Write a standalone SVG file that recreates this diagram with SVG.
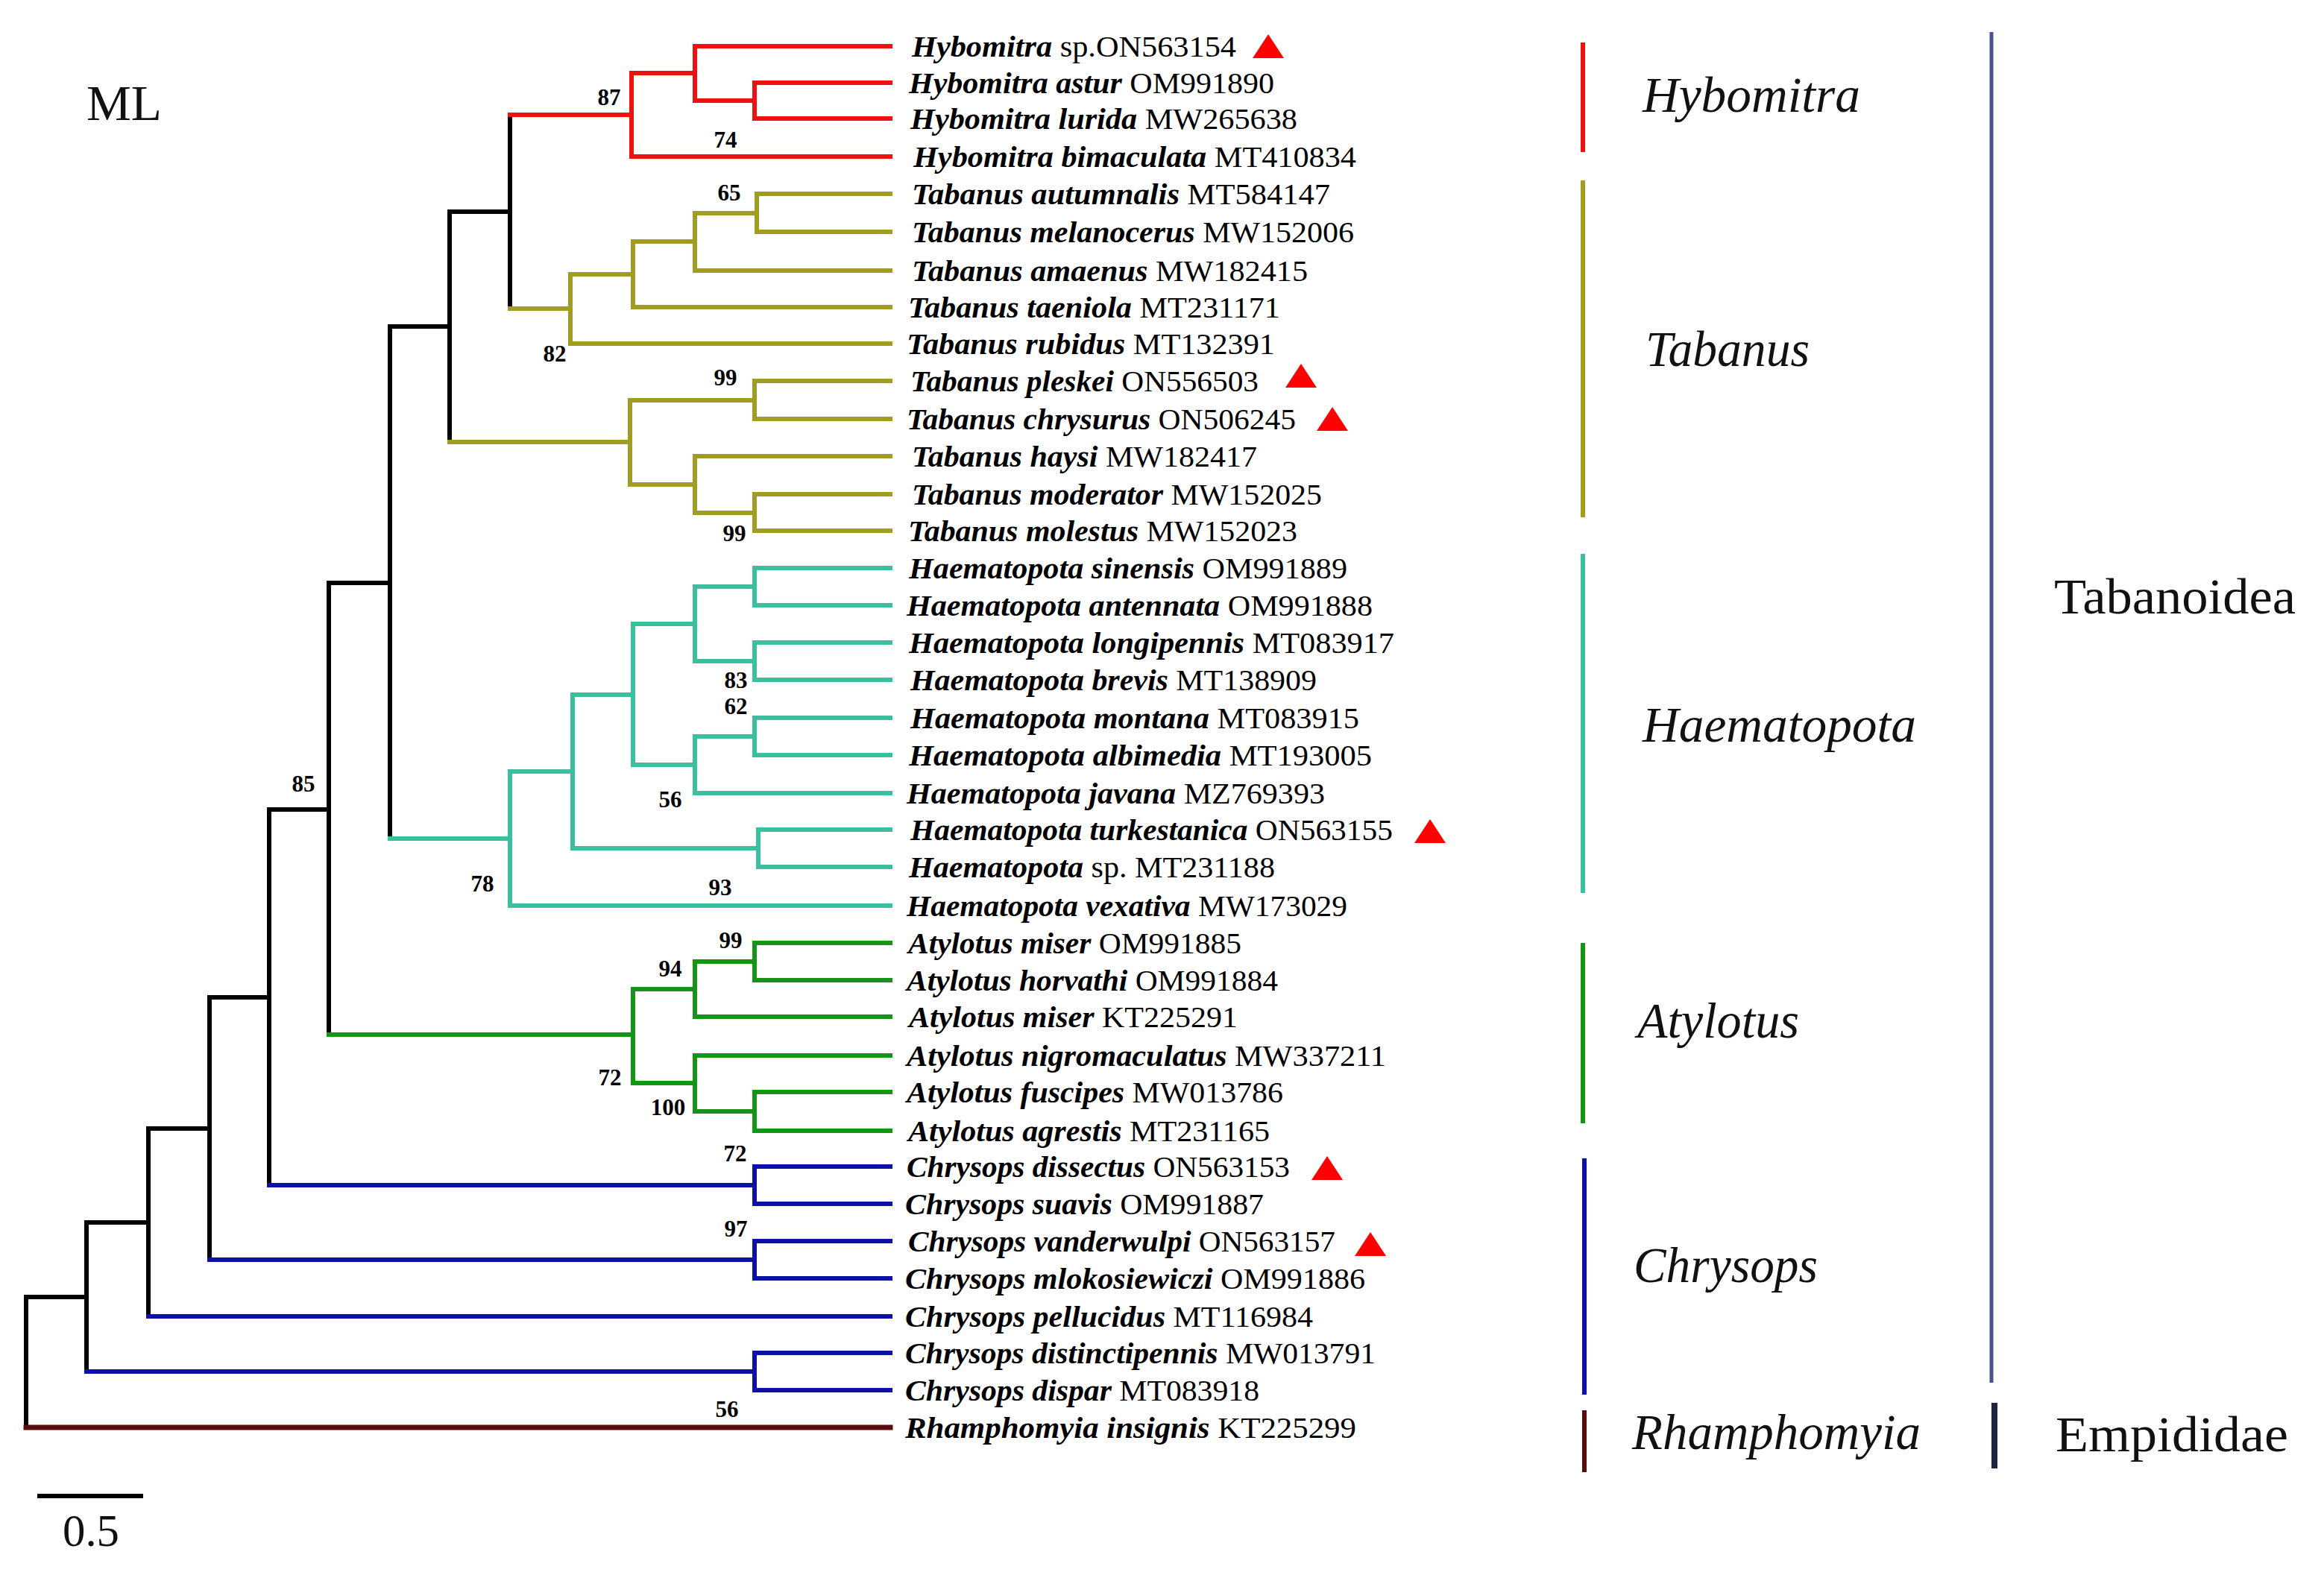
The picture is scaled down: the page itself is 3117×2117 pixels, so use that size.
<svg xmlns="http://www.w3.org/2000/svg" width="3117" height="2117" viewBox="0 0 3117 2117">
<style>
.br{fill:none;stroke-width:6;stroke-linecap:square}
.k{stroke:#000}.r{stroke:#ee1111}.o{stroke:#a19c22}.t{stroke:#3cbf9f}.g{stroke:#159415}.b{stroke:#0c10a6}.d{stroke:#5a0c0c}
.lf{font-family:"Liberation Serif","Times New Roman",serif;font-size:41px;fill:#000}
.sp{font-weight:bold;font-style:italic}
.bs{font-family:"Liberation Serif","Times New Roman",serif;font-size:31px;font-weight:bold;fill:#000;text-anchor:middle}
.gn{font-family:"Liberation Serif","Times New Roman",serif;font-size:68px;font-style:italic;fill:#111}
.fam{font-family:"Liberation Serif","Times New Roman",serif;font-size:68px;fill:#111}
.bar{stroke-width:6;fill:none}
</style>
<defs>
<polygon id="tri" points="0,-17 -21,15 21,15" fill="#ff0000"/>
</defs>
<rect width="3117" height="2117" fill="#fff"/>
<g id="connectors">
<path class="br k" d="M35 1740V1915M35 1740H116M116 1640V1840M116 1640H199M199 1514V1766M199 1514H281M281 1338V1690M281 1338H361M361 1086V1590M361 1086H441M441 782V1388M441 782H523M523 438V1125M523 438H603M603 284V593M603 284H684M684 154V414"/>
<path class="br r" d="M684 154H847M847 98V210M847 98H932M932 62V135M932 62H1194M932 135H1012M1012 111V159M1012 111H1194M1012 159H1194M847 210H1194"/>
<path class="br o" d="M684 414H765M765 368V461M765 461H1194M765 368H849M849 324V412M849 412H1194M849 324H932M932 286V363M932 363H1194M932 286H1015M1015 260V311M1015 260H1194M1015 311H1194M603 593H845M845 537V650M845 537H1012M1012 511V562M1012 511H1194M1012 562H1194M845 650H932M932 612V688M932 612H1194M932 688H1012M1012 663V712M1012 663H1194M1012 712H1194"/>
<path class="br t" d="M523 1125H684M684 1035V1215M684 1215H1194M684 1035H768M768 932V1138M768 1138H1017M1017 1113V1163M1017 1113H1194M1017 1163H1194M768 932H849M849 837V1026M849 837H932M932 787V887M932 787H1012M1012 762V812M1012 762H1194M1012 812H1194M932 887H1012M1012 862V912M1012 862H1194M1012 912H1194M849 1026H932M932 988V1064M932 988H1012M1012 963V1013M1012 963H1194M1012 1013H1194M932 1064H1194"/>
<path class="br g" d="M441 1388H849M849 1327V1453M849 1327H932M932 1290V1364M932 1290H1012M1012 1265V1315M1012 1265H1194M1012 1315H1194M932 1364H1194M849 1453H932M932 1416V1491M932 1416H1194M932 1491H1012M1012 1465V1517M1012 1465H1194M1012 1517H1194"/>
<path class="br b" d="M361 1590H1012M1012 1565V1615M1012 1565H1194M1012 1615H1194M281 1690H1012M1012 1665V1715M1012 1665H1194M1012 1715H1194M199 1766H1194M116 1840H1012M1012 1815V1865M1012 1815H1194M1012 1865H1194"/>
<path class="br d" style="stroke-width:7" d="M35 1915H1194"/>
</g>
<g id="bootstrap">
<text class="bs" x="817" y="141">87</text>
<text class="bs" x="973" y="198">74</text>
<text class="bs" x="978" y="269">65</text>
<text class="bs" x="744" y="485">82</text>
<text class="bs" x="973" y="517">99</text>
<text class="bs" x="985" y="726">99</text>
<text class="bs" x="987" y="923">83</text>
<text class="bs" x="987" y="958">62</text>
<text class="bs" x="899" y="1083">56</text>
<text class="bs" x="647" y="1196">78</text>
<text class="bs" x="966" y="1201">93</text>
<text class="bs" x="407" y="1062">85</text>
<text class="bs" x="980" y="1272">99</text>
<text class="bs" x="899" y="1310">94</text>
<text class="bs" x="818" y="1456">72</text>
<text class="bs" x="896" y="1496">100</text>
<text class="bs" x="986" y="1558">72</text>
<text class="bs" x="987" y="1659">97</text>
<text class="bs" x="975" y="1901">56</text>
</g>
<g id="leaf-01"><text class="lf" x="1223" y="76" textLength="435" lengthAdjust="spacingAndGlyphs"><tspan class="sp">Hybomitra</tspan> sp.ON563154</text><use href="#tri" x="1701" y="63"/></g>
<g id="leaf-02"><text class="lf" x="1219" y="125" textLength="490" lengthAdjust="spacingAndGlyphs"><tspan class="sp">Hybomitra astur</tspan> OM991890</text></g>
<g id="leaf-03"><text class="lf" x="1221" y="173" textLength="519" lengthAdjust="spacingAndGlyphs"><tspan class="sp">Hybomitra lurida</tspan> MW265638</text></g>
<g id="leaf-04"><text class="lf" x="1225" y="224" textLength="594" lengthAdjust="spacingAndGlyphs"><tspan class="sp">Hybomitra bimaculata</tspan> MT410834</text></g>
<g id="leaf-05"><text class="lf" x="1223" y="274" textLength="561" lengthAdjust="spacingAndGlyphs"><tspan class="sp">Tabanus autumnalis</tspan> MT584147</text></g>
<g id="leaf-06"><text class="lf" x="1223" y="325" textLength="593" lengthAdjust="spacingAndGlyphs"><tspan class="sp">Tabanus melanocerus</tspan> MW152006</text></g>
<g id="leaf-07"><text class="lf" x="1223" y="377" textLength="531" lengthAdjust="spacingAndGlyphs"><tspan class="sp">Tabanus amaenus</tspan> MW182415</text></g>
<g id="leaf-08"><text class="lf" x="1218" y="426" textLength="499" lengthAdjust="spacingAndGlyphs"><tspan class="sp">Tabanus taeniola</tspan> MT231171</text></g>
<g id="leaf-09"><text class="lf" x="1216" y="475" textLength="494" lengthAdjust="spacingAndGlyphs"><tspan class="sp">Tabanus rubidus</tspan> MT132391</text></g>
<g id="leaf-10"><text class="lf" x="1221" y="525" textLength="467" lengthAdjust="spacingAndGlyphs"><tspan class="sp">Tabanus pleskei</tspan> ON556503</text><use href="#tri" x="1745" y="505"/></g>
<g id="leaf-11"><text class="lf" x="1216" y="576" textLength="522" lengthAdjust="spacingAndGlyphs"><tspan class="sp">Tabanus chrysurus</tspan> ON506245</text><use href="#tri" x="1787" y="563"/></g>
<g id="leaf-12"><text class="lf" x="1223" y="626" textLength="463" lengthAdjust="spacingAndGlyphs"><tspan class="sp">Tabanus haysi</tspan> MW182417</text></g>
<g id="leaf-13"><text class="lf" x="1223" y="677" textLength="550" lengthAdjust="spacingAndGlyphs"><tspan class="sp">Tabanus moderator</tspan> MW152025</text></g>
<g id="leaf-14"><text class="lf" x="1218" y="726" textLength="522" lengthAdjust="spacingAndGlyphs"><tspan class="sp">Tabanus molestus</tspan> MW152023</text></g>
<g id="leaf-15"><text class="lf" x="1219" y="776" textLength="588" lengthAdjust="spacingAndGlyphs"><tspan class="sp">Haematopota sinensis</tspan> OM991889</text></g>
<g id="leaf-16"><text class="lf" x="1216" y="826" textLength="625" lengthAdjust="spacingAndGlyphs"><tspan class="sp">Haematopota antennata</tspan> OM991888</text></g>
<g id="leaf-17"><text class="lf" x="1219" y="876" textLength="651" lengthAdjust="spacingAndGlyphs"><tspan class="sp">Haematopota longipennis</tspan> MT083917</text></g>
<g id="leaf-18"><text class="lf" x="1221" y="926" textLength="545" lengthAdjust="spacingAndGlyphs"><tspan class="sp">Haematopota brevis</tspan> MT138909</text></g>
<g id="leaf-19"><text class="lf" x="1221" y="977" textLength="602" lengthAdjust="spacingAndGlyphs"><tspan class="sp">Haematopota montana</tspan> MT083915</text></g>
<g id="leaf-20"><text class="lf" x="1219" y="1027" textLength="621" lengthAdjust="spacingAndGlyphs"><tspan class="sp">Haematopota albimedia</tspan> MT193005</text></g>
<g id="leaf-21"><text class="lf" x="1216" y="1078" textLength="561" lengthAdjust="spacingAndGlyphs"><tspan class="sp">Haematopota javana</tspan> MZ769393</text></g>
<g id="leaf-22"><text class="lf" x="1221" y="1127" textLength="647" lengthAdjust="spacingAndGlyphs"><tspan class="sp">Haematopota turkestanica</tspan> ON563155</text><use href="#tri" x="1918" y="1116"/></g>
<g id="leaf-23"><text class="lf" x="1219" y="1177" textLength="491" lengthAdjust="spacingAndGlyphs"><tspan class="sp">Haematopota</tspan> sp. MT231188</text></g>
<g id="leaf-24"><text class="lf" x="1216" y="1229" textLength="591" lengthAdjust="spacingAndGlyphs"><tspan class="sp">Haematopota vexativa</tspan> MW173029</text></g>
<g id="leaf-25"><text class="lf" x="1218" y="1279" textLength="447" lengthAdjust="spacingAndGlyphs"><tspan class="sp">Atylotus miser</tspan> OM991885</text></g>
<g id="leaf-26"><text class="lf" x="1216" y="1329" textLength="498" lengthAdjust="spacingAndGlyphs"><tspan class="sp">Atylotus horvathi</tspan> OM991884</text></g>
<g id="leaf-27"><text class="lf" x="1219" y="1378" textLength="441" lengthAdjust="spacingAndGlyphs"><tspan class="sp">Atylotus miser</tspan> KT225291</text></g>
<g id="leaf-28"><text class="lf" x="1216" y="1430" textLength="643" lengthAdjust="spacingAndGlyphs"><tspan class="sp">Atylotus nigromaculatus</tspan> MW337211</text></g>
<g id="leaf-29"><text class="lf" x="1216" y="1479" textLength="505" lengthAdjust="spacingAndGlyphs"><tspan class="sp">Atylotus fuscipes</tspan> MW013786</text></g>
<g id="leaf-30"><text class="lf" x="1218" y="1531" textLength="485" lengthAdjust="spacingAndGlyphs"><tspan class="sp">Atylotus agrestis</tspan> MT231165</text></g>
<g id="leaf-31"><text class="lf" x="1216" y="1579" textLength="514" lengthAdjust="spacingAndGlyphs"><tspan class="sp">Chrysops dissectus</tspan> ON563153</text><use href="#tri" x="1780" y="1568"/></g>
<g id="leaf-32"><text class="lf" x="1214" y="1629" textLength="481" lengthAdjust="spacingAndGlyphs"><tspan class="sp">Chrysops suavis</tspan> OM991887</text></g>
<g id="leaf-33"><text class="lf" x="1218" y="1679" textLength="573" lengthAdjust="spacingAndGlyphs"><tspan class="sp">Chrysops vanderwulpi</tspan> ON563157</text><use href="#tri" x="1838" y="1670"/></g>
<g id="leaf-34"><text class="lf" x="1214" y="1729" textLength="617" lengthAdjust="spacingAndGlyphs"><tspan class="sp">Chrysops mlokosiewiczi</tspan> OM991886</text></g>
<g id="leaf-35"><text class="lf" x="1214" y="1780" textLength="547" lengthAdjust="spacingAndGlyphs"><tspan class="sp">Chrysops pellucidus</tspan> MT116984</text></g>
<g id="leaf-36"><text class="lf" x="1214" y="1829" textLength="631" lengthAdjust="spacingAndGlyphs"><tspan class="sp">Chrysops distinctipennis</tspan> MW013791</text></g>
<g id="leaf-37"><text class="lf" x="1214" y="1879" textLength="475" lengthAdjust="spacingAndGlyphs"><tspan class="sp">Chrysops dispar</tspan> MT083918</text></g>
<g id="leaf-38"><text class="lf" x="1214" y="1929" textLength="605" lengthAdjust="spacingAndGlyphs"><tspan class="sp">Rhamphomyia insignis</tspan> KT225299</text></g>
<g id="clade-hybomitra"><line class="bar" x1="2123" y1="57" x2="2123" y2="204" stroke="#ee1111"/><text class="gn" x="2203" y="150" textLength="292" lengthAdjust="spacingAndGlyphs">Hybomitra</text></g>
<g id="clade-tabanus"><line class="bar" x1="2123" y1="242" x2="2123" y2="694" stroke="#a19c22"/><text class="gn" x="2207" y="491" textLength="220" lengthAdjust="spacingAndGlyphs">Tabanus</text></g>
<g id="clade-haematopota"><line class="bar" x1="2123" y1="743" x2="2123" y2="1198" stroke="#3cbf9f"/><text class="gn" x="2203" y="995" textLength="367" lengthAdjust="spacingAndGlyphs">Haematopota</text></g>
<g id="clade-atylotus"><line class="bar" x1="2123" y1="1265" x2="2123" y2="1507" stroke="#159415"/><text class="gn" x="2196" y="1392" textLength="217" lengthAdjust="spacingAndGlyphs">Atylotus</text></g>
<g id="clade-chrysops"><line class="bar" x1="2125" y1="1554" x2="2125" y2="1871" stroke="#0c10a6"/><text class="gn" x="2191" y="1720" textLength="247" lengthAdjust="spacingAndGlyphs">Chrysops</text></g>
<g id="clade-rhamphomyia"><line class="bar" x1="2125" y1="1892" x2="2125" y2="1975" stroke="#5a0c0c"/><text class="gn" x="2189" y="1944" textLength="387" lengthAdjust="spacingAndGlyphs">Rhamphomyia</text></g>
<g id="family-tabanoidea"><line class="bar" x1="2671" y1="43" x2="2671" y2="1855" stroke="#4b5090" style="stroke-width:5"/><text class="fam" x="2755" y="823" textLength="324" lengthAdjust="spacingAndGlyphs">Tabanoidea</text></g>
<g id="family-empididae"><line class="bar" x1="2675" y1="1882" x2="2675" y2="1970" stroke="#1f2340" style="stroke-width:8"/><text class="fam" x="2757" y="1947" textLength="312" lengthAdjust="spacingAndGlyphs">Empididae</text></g>
<g id="title"><text class="fam" x="116" y="161" textLength="101" lengthAdjust="spacingAndGlyphs">ML</text></g>
<g id="scale"><line x1="50" y1="2007" x2="192" y2="2007" stroke="#000" stroke-width="6"/><text class="fam" style="font-size:62px" x="84" y="2074" textLength="76" lengthAdjust="spacingAndGlyphs">0.5</text></g>
</svg>
